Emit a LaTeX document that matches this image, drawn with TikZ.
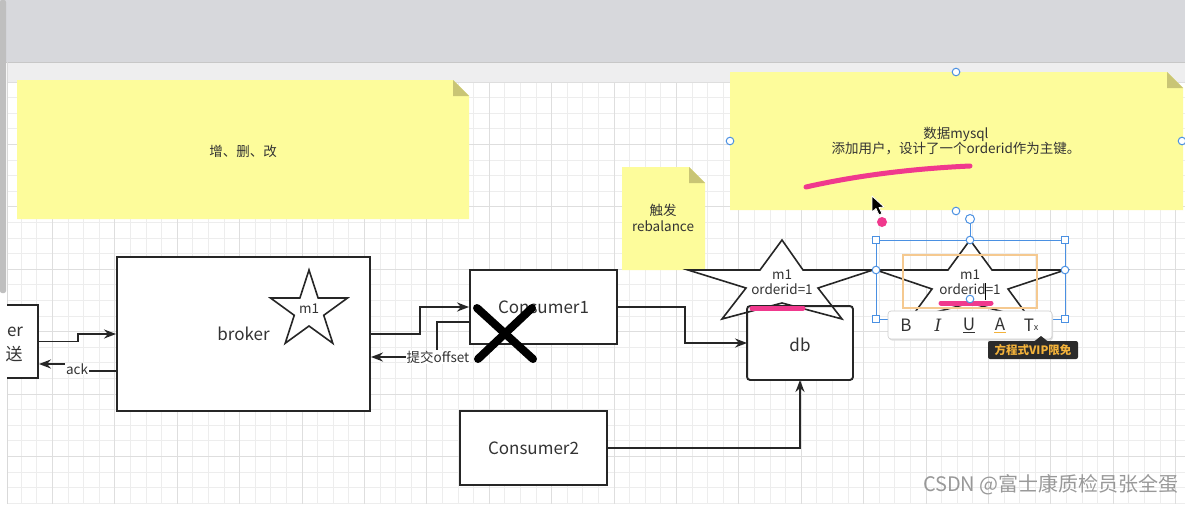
\documentclass[tikz,border=0pt]{standalone}
\usepackage{fontspec}
\setmainfont{Noto Sans CJK SC}
\newfontfamily\serifit{DejaVu Serif}
\usetikzlibrary{arrows.meta,calc}
\definecolor{topgray}{HTML}{D7D8DC}
\definecolor{stripC}{HTML}{EEEEEF}
\definecolor{noteY}{HTML}{FDFC9B}
\definecolor{foldC}{HTML}{C9C575}
\definecolor{txt}{HTML}{333333}
\definecolor{selB}{HTML}{4A90E2}
\definecolor{orangeB}{HTML}{F5C990}
\definecolor{pinkC}{HTML}{F0398D}
\definecolor{tipBg}{HTML}{2B2B2B}
\definecolor{tipTx}{HTML}{F3B23A}
\definecolor{gridMinor}{HTML}{EDEDED}
\definecolor{gridMajor}{HTML}{DEDEDE}
\definecolor{lineC}{HTML}{262626}
\begin{document}
\begin{tikzpicture}[x=1pt,y=-1pt,
  box/.style={draw=lineC, line width=1.9pt, fill=white, inner sep=0pt, text=txt,
              font=\fontsize{17}{20}\selectfont},
  conn/.style={draw=lineC, line width=1.8pt, -{Stealth[length=12pt,width=9pt]}},
  lbl/.style={font=\fontsize{13.5}{17}\selectfont, text=txt, inner sep=1pt},
  elbl/.style={lbl, fill=white},
  notefill/.style={fill=noteY},
  foldfill/.style={fill=foldC},
  starline/.style={draw=lineC, line width=1.6pt, fill=white, line join=miter},
  pinkline/.style={draw=pinkC, line width=5pt, line cap=round},
  handleC/.style={draw=selB, fill=white, line width=1pt},
  handleS/.style={draw=selB, fill=white, line width=1pt, minimum size=7pt, inner sep=0pt, rectangle},
  icon/.style={font=\fontsize{17}{20}\selectfont, text=txt, inner sep=0pt}
]
\useasboundingbox (0,0) rectangle (1185,504);
% canvas
\fill[white] (0,0) rectangle (1185,504);
\foreach \i in {0,...,75} \draw[gridMinor, line width=0.8pt] ({21.2+15.6*\i},82) -- ({21.2+15.6*\i},504);
\foreach \j in {0,...,27} \draw[gridMinor, line width=0.8pt] (8,{82+15.6*\j}) -- (1185,{82+15.6*\j});
\foreach \i in {0,...,18} \draw[gridMajor, line width=1pt] ({52.4+62.4*\i},82) -- ({52.4+62.4*\i},504);
\foreach \j in {0,...,6} \draw[gridMajor, line width=1pt] (8,{82+62.4*\j}) -- (1185,{82+62.4*\j});
% top chrome
\fill[topgray] (0,0) rectangle (1185,62);
\draw[black!22, line width=1pt] (0,62) -- (1185,62);
\fill[stripC] (8,63) rectangle (1185,82);
\fill[black!25, rounded corners=2pt] (0,0) rectangle (6,293);
\draw[black!15, line width=0.8pt] (7.5,62) -- (7.5,504);

% sticky notes
\fill[notefill] (17,80) -- (453,80) -- (469,96) -- (469,219) -- (17,219) -- cycle;
\fill[foldfill] (453,80) -- (469,96) -- (453,96) -- cycle;
\node[lbl] (n1) at (243,151) {增、删、改};

\fill[notefill] (622,167) -- (689,167) -- (705,183) -- (705,270) -- (622,270) -- cycle;
\fill[foldfill] (689,167) -- (705,183) -- (689,183) -- cycle;
\node[lbl, align=center] (n2) at (663,218) {触发\\[-1pt]rebalance};

\fill[notefill] (730,72) -- (1167,72) -- (1183,88) -- (1183,210) -- (730,210) -- cycle;
\fill[foldfill] (1167,72) -- (1183,88) -- (1167,88) -- cycle;
\node[lbl, align=center] (n3) at (956,141) {数据mysql\\[-2pt]添加用户，设计了一个orderid作为主键。};
\draw[pinkline] (806,187) .. controls (850,177) and (905,169) .. (970,166);

% producer (clipped)
\begin{scope}
\clip (7,82) rectangle (60,504);
\node[box, minimum width=58pt, minimum height=73pt] (prod) at (9,341.5) {};
\end{scope}
\node[box, draw=none, fill=none, anchor=east] (prodA) at (24,332) {er};
\node[box, draw=none, fill=none] (prodB) at (14,354) {送};

% broker
\node[box, minimum width=253pt, minimum height=154pt] (broker) at (243.5,334) {broker};
\draw[starline, shift={(309,310.5)}] (-90:40.5) -- (-54:15.5) -- (-18:40.5) -- (18:15.5) -- (54:40.5)
  -- (90:15.5) -- (126:40.5) -- (162:15.5) -- (198:40.5) -- (234:15.5) -- cycle;
\node[lbl] (bstar) at (309,309) {m1};

% consumers and db
\node[box, minimum width=147pt, minimum height=74pt] (c1) at (543.5,307) {Consumer1};
\node[box, minimum width=147pt, minimum height=74pt] (c2) at (533.5,448) {Consumer2};
\node[box, draw=none, rounded corners=3pt, minimum width=104pt, minimum height=72pt] (db) at (800,343) {};

% star 2
\draw[starline] (782,240) -- (803,270) -- (873,270) -- (818,288) -- (842,319) -- (782,303)
  -- (722,319) -- (746,288) -- (688,270) -- (760,270) -- cycle;
\draw[draw=lineC, line width=1.9pt, rounded corners=3pt] (db.south west) rectangle (db.north east);
\node[box, draw=none, fill=none] (dbt) at (800,345) {db};
\node[lbl, align=center] (s2) at (782,282) {m1\\[-2pt]orderid=1};
\draw[pinkline] (752,308) -- (803,308);

% connectors
\draw[conn] (prod.east) -- (78,341.5) |- (broker.west);
\draw[conn] ([yshift=-37pt]broker.west) -- (77,371) -- (77,364) -- ([yshift=-22.5pt]prod.east);
\node[elbl] (ack) at (77,369) {ack};
\draw[conn] (broker.east) -- (420,334) |- (c1.west);
\draw[conn] ([yshift=-15pt]c1.west) -- (437,322) -- (437,357) -- ([yshift=-23pt]broker.east);
\node[elbl] (off) at (438,357) {提交offset};
\draw[conn] (c1.east) -- (685,307) |- (db.west);
\draw[conn] (c2.east) -| (db.south);

% X mark
\draw[black, line width=8pt, line cap=round] (477,308) -- (533,359);
\draw[black, line width=8pt, line cap=round] (532,308) -- (478,359);

% star 3 (being edited)
\draw[starline] (970,240) -- (992,270) -- (1065,270) -- (1008,289) -- (1030,319) -- (970,303)
  -- (910,319) -- (932,289) -- (876,270) -- (948,270) -- cycle;
\draw[orangeB, line width=1.2pt] (903,255) rectangle (1037,308);
\node[lbl, align=center] (s3) at (970,282) {m1\\[-2pt]orderid=1};
\draw[black, line width=0.8pt] (985.5,283) -- (985.5,300);
\draw[pinkline] (941,303) -- (991,303);
\draw[selB, line width=0.8pt] (876,240) rectangle (1065,319);
\draw[selB, line width=0.8pt] (970,219) -- (970,240);
\draw[handleC] (970,219) circle (4.5);
\foreach \p in {(970,240),(876,270),(1065,270),(970,299)} \draw[handleC] \p circle (3.8);
\foreach \p in {(876,240),(1065,240),(876,319),(1065,319)} \node[handleS] at \p {};
% note 3 selection handles
\foreach \p in {(956,72),(730,141),(1182,141),(956,211)} \draw[handleC] \p circle (3.8);

% toolbar
\fill[black!12, rounded corners=3pt] (889,312.5) rectangle (1053,340.5);
\draw[black!20, fill=white, rounded corners=3pt, line width=0.6pt] (888,311) rectangle (1052,339);
\node[icon] (tb) at (906,325) {B};
\node[icon] (ti) at (938,325) {\serifit\itshape I};
\node[icon] (tu) at (969,324) {U};
\draw[txt, line width=1pt] (963,332) -- (975,332);
\node[icon] (ta) at (1000,324) {A};
\draw[tipTx, line width=1.6pt] (994,332.5) -- (1006,332.5);
\node[icon] (tx) at (1029,325) {T};
\node[font=\fontsize{9}{10}\selectfont, text=txt, inner sep=0pt] (txs) at (1036,328) {x};

% tooltip
\fill[tipBg, rounded corners=2pt] (988,341) rectangle (1078,359);
\fill[tipBg] (1034,341.5) -- (1041,336) -- (1048,341.5) -- cycle;
\node[font=\fontsize{11.5}{13}\selectfont\bfseries, text=tipTx, inner sep=0pt] (tip) at (1033,350) {方程式VIP限免};

% pink dot and cursor
\fill[pinkC] (882,222) circle (5);
\draw[white, fill=black, line width=0.8pt, line join=round] (872,196) -- (872,212) -- (876,208.5) -- (879,215)
  -- (882,213.5) -- (879,207.5) -- (884,207) -- cycle;

% watermark
\node[font=\fontsize{20}{22}\selectfont, text=black!40, anchor=east, inner sep=0pt] (wm) at (1179,485) {CSDN @富士康质检员张全蛋};
\end{tikzpicture}
\end{document}
